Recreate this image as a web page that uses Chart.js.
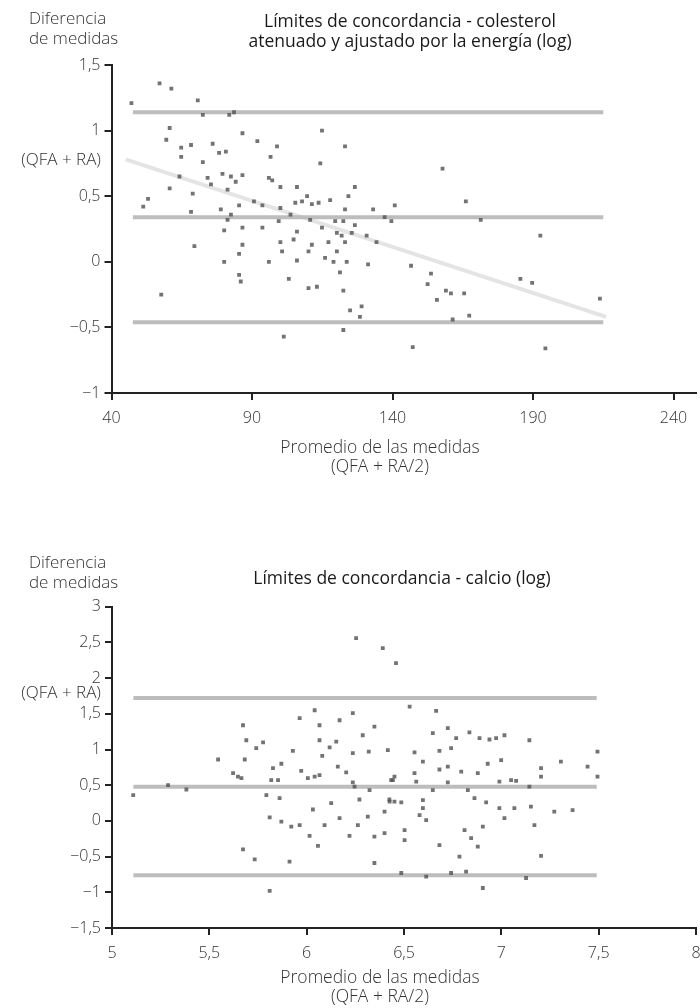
<!DOCTYPE html>
<html lang="es">
<head>
<meta charset="utf-8">
<title>Límites de concordancia</title>
<script src="https://cdn.jsdelivr.net/npm/chart.js@4.4.1/dist/chart.umd.min.js"></script>
<style>
  body { margin: 0; background: #fff; font-family: 'Open Sans', sans-serif; color: #333; }
  #page { position: relative; width: 700px; height: 1008px; overflow: hidden; }
  canvas { position: absolute; left: 0; }
  .lbl { position: absolute; white-space: nowrap; font-size: 17px; font-weight: 300; line-height: 20px; color: #333; }
  .ttl { position: absolute; white-space: nowrap; font-size: 17.5px; line-height: 20px; color: #1a1a1a; text-align: center; transform: translateX(-50%); }
  .xt { position: absolute; white-space: nowrap; font-size: 17.5px; font-weight: 300; line-height: 19px; color: #333; text-align: center; transform: translateX(-50%); }
</style>
</head>
<body>
<div id="page">
  <canvas id="chartColesterol" width="700" height="490" style="top:0"></canvas>
  <canvas id="chartCalcio" width="700" height="518" style="top:490px"></canvas>

  <div class="lbl" style="left:29px; top:8px">Diferencia<br>de medidas</div>
  <div class="ttl" style="left:410px; top:10px">Límites de concordancia - colesterol<br>atenuado y ajustado por la energía (log)</div>
  <div class="lbl" style="right:599px; top:149px">(QFA + RA)</div>
  <div class="xt" style="left:380px; top:437px">Promedio de las medidas<br>(QFA + RA/2)</div>

  <div class="lbl" style="left:29px; top:552px">Diferencia<br>de medidas</div>
  <div class="ttl" style="left:402px; top:567px">Límites de concordancia - calcio (log)</div>
  <div class="lbl" style="right:599px; top:682px">(QFA + RA)</div>
  <div class="xt" style="left:380px; top:967px">Promedio de las medidas<br>(QFA + RA/2)</div>
</div>

<script>
// colesterol: promedio (x) y diferencia (y)
const colesterolX = [57.1, 61.3, 47.1, 70.7, 72.5, 81.9, 83.6, 60.7, 86.6, 114.9,
  59.5, 64.8, 68.3, 76.0, 78.3, 80.7, 91.9, 98.9, 96.6, 123.1,
  64.8, 72.5, 114.3, 64.2, 74.2, 75.4, 79.5, 82.5, 84.2, 86.6,
  96.0, 97.2, 60.7, 68.9, 81.3, 100.1, 106.0, 126.6, 109.6, 107.8,
  105.4, 111.3, 113.7, 117.8, 124.3, 53.0, 51.3, 68.3, 78.9, 85.4,
  90.7, 93.7, 100.1, 82.5, 81.3, 103.7, 110.7, 123.1, 126.6, 133.1,
  137.2, 139.6, 140.8, 93.7, 99.5, 80.1, 86.6, 106.0, 104.8, 114.9,
  119.6, 122.5, 120.2, 121.9, 125.5, 130.8, 134.3, 100.1, 100.7, 86.6,
  85.4, 69.5, 111.3, 110.1, 117.2, 120.2, 123.1, 80.1, 96.0, 106.0,
  116.0, 119.0, 123.7, 131.3, 146.6, 85.4, 86.0, 103.1, 121.3, 110.1,
  113.1, 122.5, 57.7, 124.9, 129.0, 128.4, 122.5, 101.3, 147.2,
  157.8, 166.1, 171.4, 192.6, 153.7, 152.5, 159.0, 160.8, 165.5, 155.8,
  185.5, 189.7, 213.8, 167.3, 161.4, 194.4];
const colesterolY = [1.36, 1.32, 1.21, 1.23, 1.12, 1.12, 1.14, 1.02, 0.98, 1.0,
  0.93, 0.87, 0.89, 0.9, 0.83, 0.84, 0.92, 0.88, 0.8, 0.88,
  0.8, 0.76, 0.75, 0.65, 0.64, 0.59, 0.67, 0.65, 0.61, 0.66,
  0.64, 0.62, 0.56, 0.52, 0.55, 0.57, 0.57, 0.57, 0.5, 0.46,
  0.45, 0.44, 0.45, 0.47, 0.5, 0.48, 0.42, 0.38, 0.4, 0.43,
  0.46, 0.43, 0.41, 0.36, 0.32, 0.36, 0.32, 0.4, 0.28, 0.4,
  0.34, 0.31, 0.43, 0.26, 0.31, 0.24, 0.26, 0.23, 0.17, 0.26,
  0.31, 0.31, 0.22, 0.2, 0.22, 0.2, 0.15, 0.15, 0.08, 0.13,
  0.06, 0.12, 0.13, 0.08, 0.15, 0.08, 0.15, 0.0, 0.0, 0.01,
  0.03, 0.0, 0.0, -0.02, -0.03, -0.1, -0.15, -0.13, -0.08, -0.2,
  -0.19, -0.22, -0.25, -0.37, -0.34, -0.42, -0.52, -0.57, -0.65,
  0.71, 0.46, 0.32, 0.2, -0.09, -0.17, -0.22, -0.24, -0.24, -0.29,
  -0.13, -0.16, -0.28, -0.41, -0.44, -0.66];
const colesterolLimits = [1.14, 0.34, -0.46];
const colesterolLimitSpan = [47.6, 215];
const colesterolTrendX = [45, 216];
const colesterolTrendY = [0.78, -0.42];
const colesterolXTicks = [40, 90, 140, 190, 240];
const colesterolYTicks = [-1, -0.5, 0, 0.5, 1, 1.5];

// calcio: promedio (x) y diferencia (y)
const calcioX = [6.254, 6.391, 6.459, 6.041, 5.964, 6.066, 6.169, 6.237, 5.673, 6.348,
  5.69, 5.776, 5.741, 6.066, 6.152, 6.118, 6.288, 5.929, 6.417, 5.545,
  5.682, 5.827, 5.87, 6.08, 6.237, 6.319, 5.972, 6.006, 6.16, 6.203,
  5.622, 5.647, 5.665, 6.066, 6.041, 6.434, 6.451, 5.818, 5.853, 6.246,
  6.237, 6.323, 5.109, 5.288, 5.382, 5.793, 5.861, 6.271, 6.425, 6.451,
  6.032, 6.126, 6.4, 5.81, 5.87, 6.169, 6.263, 6.314, 5.921, 5.964,
  6.092, 6.015, 6.22, 6.348, 6.4, 6.058, 5.673, 5.733, 5.912, 6.348, 5.81,
  6.529, 6.665, 6.648, 6.725, 6.768, 6.836, 6.888, 6.939, 6.973, 7.016,
  7.144, 6.554, 6.682, 6.742, 6.597, 6.682, 6.725, 6.794, 6.879, 6.93,
  6.999, 7.204, 7.204, 7.306, 7.443, 7.494, 7.494, 6.443, 6.554, 6.563,
  6.648, 6.725, 6.828, 6.99, 7.05, 7.076, 7.144, 6.426, 6.486, 6.597,
  6.597, 6.862, 6.922, 6.99, 7.016, 7.067, 7.152, 7.272, 7.366, 6.58,
  6.614, 7.17, 6.503, 6.503, 6.811, 6.845, 6.879, 6.682, 6.905, 6.785,
  7.204, 6.486, 6.614, 6.742, 6.819, 7.127, 6.905];
const calcioY = [2.56, 2.42, 2.21, 1.55, 1.44, 1.34, 1.41, 1.51, 1.34, 1.32,
  1.13, 1.1, 1.02, 1.13, 1.11, 1.03, 1.2, 0.98, 0.99, 0.86,
  0.86, 0.74, 0.8, 0.91, 0.95, 0.97, 0.7, 0.6, 0.76, 0.68,
  0.67, 0.62, 0.6, 0.64, 0.62, 0.57, 0.62, 0.57, 0.57, 0.48,
  0.54, 0.43, 0.36, 0.5, 0.44, 0.36, 0.32, 0.3, 0.3, 0.27,
  0.16, 0.25, 0.13, 0.05, -0.01, 0.04, -0.06, 0.06, -0.08, -0.06,
  -0.06, -0.21, -0.21, -0.22, -0.17, -0.35, -0.4, -0.54, -0.57, -0.59, -0.98,
  1.6, 1.54, 1.23, 1.3, 1.16, 1.24, 1.16, 1.14, 1.16, 1.2,
  1.13, 0.96, 0.98, 1.02, 0.83, 0.72, 0.76, 0.69, 0.67, 0.8,
  0.85, 0.74, 0.62, 0.83, 0.76, 0.97, 0.62, 0.57, 0.67, 0.55,
  0.43, 0.54, 0.43, 0.55, 0.57, 0.56, 0.48, 0.27, 0.26, 0.29,
  0.18, 0.32, 0.26, 0.18, 0.04, 0.18, 0.2, 0.13, 0.15, 0.08,
  0.01, -0.06, -0.13, -0.27, -0.13, -0.24, -0.36, -0.34, -0.08, -0.5,
  -0.49, -0.73, -0.78, -0.73, -0.71, -0.8, -0.94];
const calcioLimits = [1.72, 0.48, -0.76];
const calcioLimitSpan = [5.11, 7.49];
const calcioXTicks = [5, 5.5, 6, 6.5, 7, 7.5, 8];
const calcioYTicks = [-1.5, -1, -0.5, 0, 0.5, 1, 1.5, 2, 2.5, 3];

const FONT = "'Open Sans', sans-serif";

function fmt(v) {
  return (v < 0 ? '\u2212' : '') + String(Math.abs(v)).replace('.', ',');
}

function toPoints(xs, ys) {
  return xs.map((x, i) => ({ x: x, y: ys[i] }));
}

function limitLines(levels, span) {
  return levels.map(v => ({
    type: 'line',
    data: span.map(x => ({ x: x, y: v })),
    borderColor: '#bdbdbd',
    borderWidth: 4,
    pointRadius: 0,
    showLine: true,
    order: 2
  }));
}

function axisStyle(tickList, fixSize, horizontal) {
  return {
    type: 'linear',
    afterBuildTicks: function (scale) {
      scale.ticks = tickList.map(v => ({ value: v }));
    },
    afterFit: function (scale) {
      if (horizontal) {
        scale.height = fixSize;
        scale.paddingLeft = 0;
        scale.paddingRight = 0;
      } else {
        scale.width = fixSize;
        scale.paddingTop = 0;
        scale.paddingBottom = 0;
      }
    },
    border: { display: true, color: '#222', width: 2 },
    grid: { drawOnChartArea: false, drawTicks: true, tickLength: 7, color: '#222', lineWidth: 2 },
    ticks: {
      color: '#333',
      padding: horizontal ? 9 : 4,
      font: { family: FONT, size: 16, weight: '300' },
      callback: v => fmt(v)
    }
  };
}

function makeChart(id, datasets, xRange, yRange, xTicks, yTicks, pad, xHeight, yWidth) {
  const xs = axisStyle(xTicks, xHeight, true);
  xs.min = xRange[0];
  xs.max = xRange[1];
  const ys = axisStyle(yTicks, yWidth, false);
  ys.min = yRange[0];
  ys.max = yRange[1];
  return new Chart(document.getElementById(id).getContext('2d'), {
    type: 'scatter',
    data: { datasets: datasets },
    options: {
      responsive: false,
      animation: false,
      devicePixelRatio: 1,
      layout: { padding: pad },
      plugins: { legend: { display: false }, tooltip: { enabled: false } },
      scales: { x: xs, y: ys }
    }
  });
}

const dotStyle = {
  pointStyle: 'rect',
  pointRadius: 2.7,
  pointBackgroundColor: 'rgba(80,80,80,0.8)',
  pointBorderWidth: 0,
  showLine: false,
  order: 0
};

makeChart('chartColesterol', [
  Object.assign({ data: toPoints(colesterolX, colesterolY) }, dotStyle),
  {
    type: 'line',
    data: toPoints(colesterolTrendX, colesterolTrendY),
    borderColor: '#e4e4e4',
    borderWidth: 4,
    pointRadius: 0,
    showLine: true,
    order: 3
  }
].concat(limitLines(colesterolLimits, colesterolLimitSpan)),
  [40, 248], [-1, 1.5], colesterolXTicks, colesterolYTicks,
  { top: 65, right: 0, left: 0, bottom: 0 }, 97, 111.5);

makeChart('chartCalcio', [
  Object.assign({ data: toPoints(calcioX, calcioY) }, dotStyle)
].concat(limitLines(calcioLimits, calcioLimitSpan)),
  [5, 8], [-1.5, 3], calcioXTicks, calcioYTicks,
  { top: 116.7, right: 3, left: 0, bottom: 0 }, 80, 112);
</script>
</body>
</html>
